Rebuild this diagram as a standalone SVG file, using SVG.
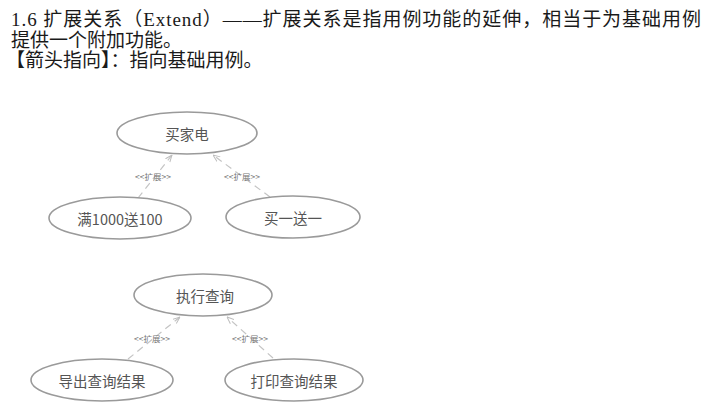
<svg xmlns="http://www.w3.org/2000/svg" width="711" height="404" viewBox="0 0 711 404">
<style>
.hd{font-family:"Liberation Serif","Noto Sans CJK SC",serif;font-size:19px;fill:#1a1a1a}
.uc ellipse{fill:#fff;stroke:#9a9a9a;stroke-width:1.6}
.uc text{font-family:"Noto Sans CJK SC","Liberation Sans",sans-serif;font-size:14.5px;fill:#555;text-anchor:middle;dominant-baseline:central}
.cn line{stroke:#c4c4c4;stroke-width:1.2;stroke-dasharray:7,5}
.lb{font-family:"Noto Sans CJK SC","Liberation Sans",sans-serif;font-size:8.5px;fill:#777;text-anchor:middle;dominant-baseline:central}
</style>
<defs>
<marker id="arr" viewBox="0 0 10 10" refX="10" refY="5" markerWidth="7" markerHeight="7" orient="auto" markerUnits="userSpaceOnUse">
<path d="M0,1 L10,5 L0,9" fill="none" stroke="#bdbdbd" stroke-width="1.4"/>
</marker>
</defs>
<rect width="711" height="404" fill="#fff"/>
<text class="hd" x="11" y="26" textLength="690" lengthAdjust="spacing">1.6 扩展关系（Extend）——扩展关系是指用例功能的延伸，相当于为基础用例</text>
<text class="hd" x="11" y="47">提供一个附加功能。</text>
<text class="hd" x="6" y="67">【箭头指向】：指向基础用例。</text>
<g id="connectors" class="cn">
<line x1="138" y1="198" x2="172" y2="155" marker-end="url(#arr)"/>
<line x1="270" y1="197" x2="213" y2="155" marker-end="url(#arr)"/>
<line x1="128" y1="359" x2="180" y2="317" marker-end="url(#arr)"/>
<line x1="273" y1="358" x2="227" y2="317" marker-end="url(#arr)"/>
<text class="lb" x="153" y="176">&lt;&lt;扩展&gt;&gt;</text>
<text class="lb" x="242" y="176">&lt;&lt;扩展&gt;&gt;</text>
<text class="lb" x="152" y="338">&lt;&lt;扩展&gt;&gt;</text>
<text class="lb" x="250" y="338">&lt;&lt;扩展&gt;&gt;</text>
</g>
<g id="buy" class="uc"><ellipse cx="187" cy="133" rx="70" ry="21"/><text x="187" y="133">买家电</text></g>
<g id="full1000" class="uc"><ellipse cx="120" cy="218" rx="71" ry="21"/><text x="120" y="218">满1000送100</text></g>
<g id="buyonegetone" class="uc"><ellipse cx="293" cy="217" rx="67" ry="21"/><text x="293" y="217">买一送一</text></g>
<g id="query" class="uc"><ellipse cx="203" cy="295" rx="69" ry="21"/><text x="205" y="295">执行查询</text></g>
<g id="export" class="uc"><ellipse cx="102" cy="380" rx="71" ry="21"/><text x="102" y="380">导出查询结果</text></g>
<g id="print" class="uc"><ellipse cx="294" cy="380" rx="69" ry="21"/><text x="294" y="380">打印查询结果</text></g>
</svg>
